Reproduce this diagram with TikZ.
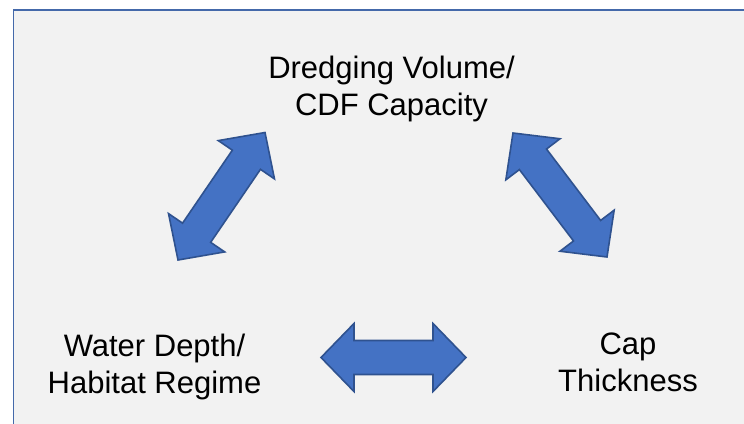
\documentclass[tikz,border=0pt]{standalone}
\usepackage{fontspec}
\setmainfont{Liberation Sans}
\usetikzlibrary{calc}
\definecolor{framecol}{RGB}{68,105,170}
\definecolor{bgcol}{RGB}{242,242,242}
\definecolor{arrfill}{RGB}{68,114,196}
\definecolor{arrline}{RGB}{47,82,143}
\tikzset{
  lbl/.style={align=center, anchor=base, inner sep=0pt, font=\fontsize{31}{37}\selectfont, text=black},
  blockarr/.style={fill=arrfill, draw=arrline, line width=1.6pt, line join=miter}
}
\newcommand\dblarrow[2]{%
  \path[blockarr]
    (#1)
    -- ($ ($(#1)!33pt!(#2)$)!34pt!90:(#2) $)
    -- ($ ($(#1)!33pt!(#2)$)!17pt!90:(#2) $)
    -- ($ ($(#2)!33pt!(#1)$)!17pt!-90:(#1) $)
    -- ($ ($(#2)!33pt!(#1)$)!34pt!-90:(#1) $)
    -- (#2)
    -- ($ ($(#2)!33pt!(#1)$)!34pt!90:(#1) $)
    -- ($ ($(#2)!33pt!(#1)$)!17pt!90:(#1) $)
    -- ($ ($(#1)!33pt!(#2)$)!17pt!-90:(#2) $)
    -- ($ ($(#1)!33pt!(#2)$)!34pt!-90:(#2) $)
    -- cycle;}
\begin{document}
\begin{tikzpicture}[x=1pt,y=-1pt]
\useasboundingbox (0,0) rectangle (744,423);
\fill[white] (0,0) rectangle (744,423);
\begin{scope}
\clip (0,0) rectangle (744,423);
\draw[fill=bgcol, draw=framecol, line width=1.6pt] (13.5,10) rectangle (760,440);
\end{scope}
% labels (base anchor = baseline of last line)
\node[lbl] (top) at (391.5,115.5) {Dredging Volume/\\CDF Capacity};
\node[lbl] (left) at (154.5,393) {Water Depth/\\Habitat Regime};
\node[lbl] (right) at (628,391.5) {Cap\\Thickness};
% arrow end points
\coordinate (l1) at (265,132.5);
\coordinate (l2) at (178,260);
\coordinate (r1) at (513,133);
\coordinate (r2) at (607,257);
\coordinate (h1) at (321,357.5);
\coordinate (h2) at (466,357.5);
\dblarrow{l1}{l2}
\dblarrow{r1}{r2}
\dblarrow{h1}{h2}
\end{tikzpicture}
\end{document}
